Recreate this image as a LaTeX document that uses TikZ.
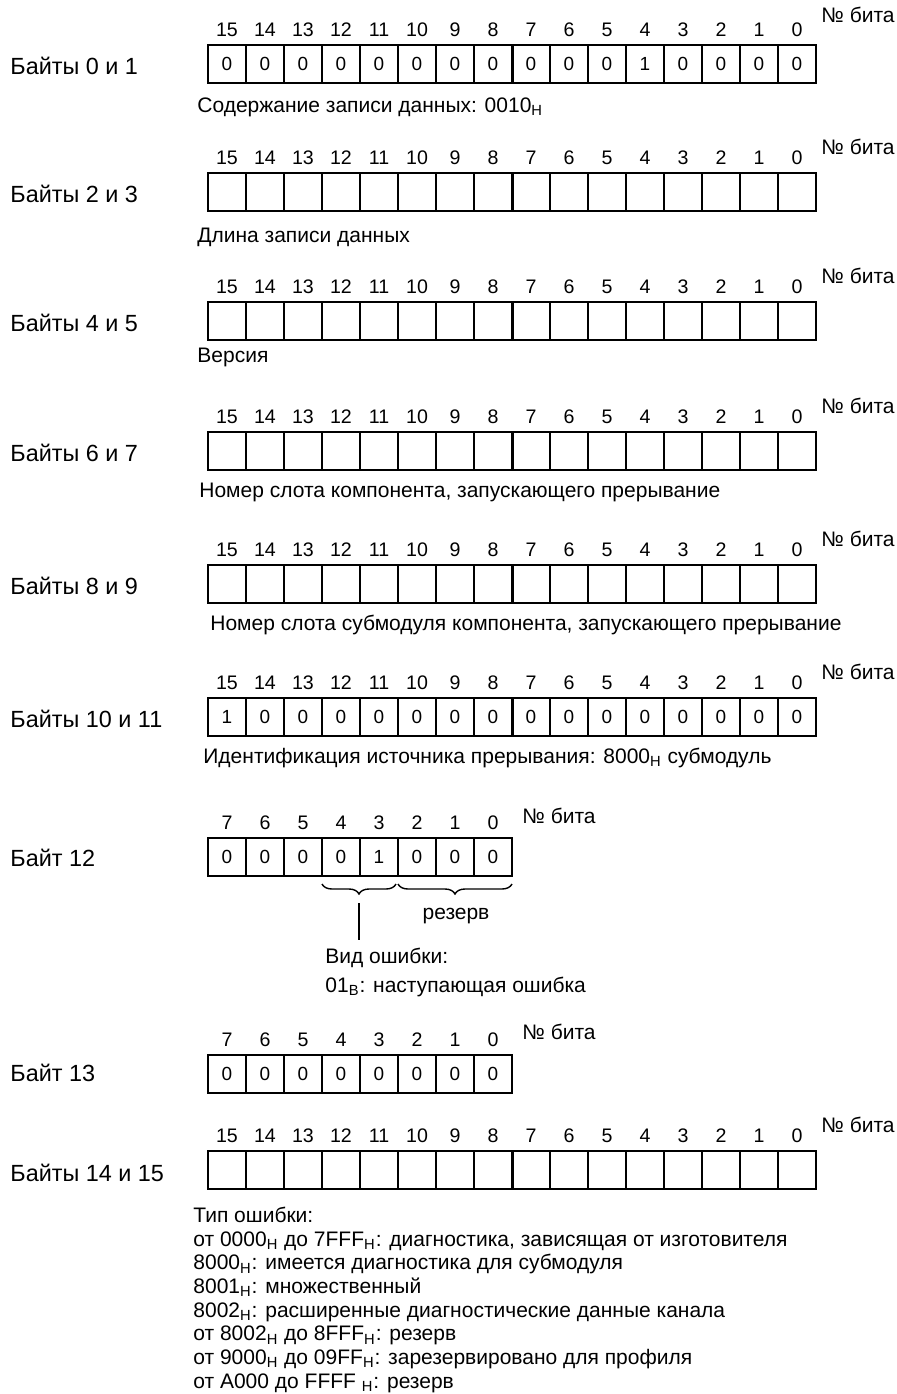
\documentclass[tikz,border=0pt]{standalone}
\usepackage{fontspec}
\setmainfont{Liberation Sans}
\usetikzlibrary{decorations.pathreplacing}
\newcommand{\regrow}[4]{% #1 name, #2 top (px), #3 number of bits, #4 cell values
  \foreach \v [count=\i from 0] in {#4} {%
    \pgfmathtruncatemacro{\b}{#3-1-\i}%
    \node[cell] (#1-\b) at ({227+38*\i},{#2+19}) {\v};%
    \node[bitno] (#1-n\b) at ({227+38*\i},{#2-15}) {\b};%
  }%
}
\begin{document}
\begin{tikzpicture}[x=0.5pt,y=-0.5pt,
  cell/.style={draw, line width=0.7pt, minimum width=19pt, minimum height=19pt, inner sep=0pt, font=\fontsize{9.5}{11}\selectfont},
  bitno/.style={inner sep=0pt, font=\fontsize{9.8}{11}\selectfont},
  txt/.style={inner sep=0pt, anchor=west, font=\fontsize{10.5}{12}\selectfont, text height=7.6pt, text depth=2.2pt},
  lbl/.style={inner sep=0pt, anchor=west, font=\fontsize{11.7}{13}\selectfont, text height=8.4pt, text depth=2.4pt},
  midline/.style={line width=1.4pt},
  plainline/.style={line width=0.7pt},
  bracestyle/.style={line width=0.7pt, decorate, decoration={brace, mirror, amplitude=5pt}},
  ]
\useasboundingbox (0,0) rectangle (897,1394);
\fill[white] (0,0) rectangle (897,1394);

% ---- Bytes 0 and 1
\regrow{A}{45}{16}{0,0,0,0,0,0,0,0,0,0,0,1,0,0,0,0}
\draw[midline] (A-8.north east) -- (A-8.south east);
\node[txt] (A-bit) at (821,17) {№ бита};
\node[lbl] (A-lbl) at (10,68) {Байты 0 и 1};
\node[txt] (A-cap) at (197,107) {Содержание записи данных: 0010\textsubscript{H}};

% ---- Bytes 2 and 3
\regrow{B}{173}{16}{{},{},{},{},{},{},{},{},{},{},{},{},{},{},{},{}}
\draw[midline] (B-8.north east) -- (B-8.south east);
\node[txt] (B-bit) at (821,149) {№ бита};
\node[lbl] (B-lbl) at (10,196) {Байты 2 и 3};
\node[txt] (B-cap) at (197,237) {Длина записи данных};

% ---- Bytes 4 and 5
\regrow{C}{302}{16}{{},{},{},{},{},{},{},{},{},{},{},{},{},{},{},{}}
\draw[midline] (C-8.north east) -- (C-8.south east);
\node[txt] (C-bit) at (821,278) {№ бита};
\node[lbl] (C-lbl) at (10,325) {Байты 4 и 5};
\node[txt] (C-cap) at (197,357) {Версия};

% ---- Bytes 6 and 7
\regrow{D}{432}{16}{{},{},{},{},{},{},{},{},{},{},{},{},{},{},{},{}}
\draw[midline] (D-8.north east) -- (D-8.south east);
\node[txt] (D-bit) at (821,408) {№ бита};
\node[lbl] (D-lbl) at (10,455) {Байты 6 и 7};
\node[txt] (D-cap) at (199,492) {Номер слота компонента, запускающего прерывание};

% ---- Bytes 8 and 9
\regrow{E}{565}{16}{{},{},{},{},{},{},{},{},{},{},{},{},{},{},{},{}}
\draw[midline] (E-8.north east) -- (E-8.south east);
\node[txt] (E-bit) at (821,541) {№ бита};
\node[lbl] (E-lbl) at (10,588) {Байты 8 и 9};
\node[txt] (E-cap) at (210,625) {Номер слота субмодуля компонента, запускающего прерывание};

% ---- Bytes 10 and 11
\regrow{F}{698}{16}{1,0,0,0,0,0,0,0,0,0,0,0,0,0,0,0}
\draw[midline] (F-8.north east) -- (F-8.south east);
\node[txt] (F-bit) at (821,674) {№ бита};
\node[lbl] (F-lbl) at (10,721) {Байты 10 и 11};
\node[txt] (F-cap) at (203,758) {Идентификация источника прерывания: 8000\textsubscript{H} субмодуль};

% ---- Byte 12
\regrow{G}{838}{8}{0,0,0,0,1,0,0,0}
\node[txt] (G-bit) at (522,818) {№ бита};
\node[lbl] (G-lbl) at (10,860) {Байт 12};
\coordinate (br1a) at (322,884);
\coordinate (br1b) at (396,884);
\coordinate (br2a) at (398,884);
\coordinate (br2b) at (512,884);
\draw[bracestyle] (br1a) -- (br1b);
\draw[bracestyle] (br2a) -- (br2b);
\coordinate (tip1) at (359,903);
\coordinate (tip1end) at (359,940);
\draw[plainline] (tip1) -- (tip1end);
\node[txt, anchor=center] (G-res) at (456,914) {резерв};
\node[txt] (G-kind) at (325,958) {Вид ошибки:};
\node[txt] (G-kind2) at (325,987) {01\textsubscript{B}: наступающая ошибка};

% ---- Byte 13
\regrow{H}{1055}{8}{0,0,0,0,0,0,0,0}
\node[txt] (H-bit) at (522,1034) {№ бита};
\node[lbl] (H-lbl) at (10,1075) {Байт 13};

% ---- Bytes 14 and 15
\regrow{K}{1151}{16}{{},{},{},{},{},{},{},{},{},{},{},{},{},{},{},{}}
\draw[midline] (K-8.north east) -- (K-8.south east);
\node[txt] (K-bit) at (821,1127) {№ бита};
\node[lbl] (K-lbl) at (10,1175) {Байты 14 и 15};
\node[txt] (K-t0) at (193,1217) {Тип ошибки:};
\node[txt] (K-t1) at (193,1240.7) {от 0000\textsubscript{H} до 7FFF\textsubscript{H}: диагностика, зависящая от изготовителя};
\node[txt] (K-t2) at (193,1264.4) {8000\textsubscript{H}: имеется диагностика для субмодуля};
\node[txt] (K-t3) at (193,1288.1) {8001\textsubscript{H}: множественный};
\node[txt] (K-t4) at (193,1311.8) {8002\textsubscript{H}: расширенные диагностические данные канала};
\node[txt] (K-t5) at (193,1335.5) {от 8002\textsubscript{H} до 8FFF\textsubscript{H}: резерв};
\node[txt] (K-t6) at (193,1359.2) {от 9000\textsubscript{H} до 09FF\textsubscript{H}: зарезервировано для профиля};
\node[txt] (K-t7) at (193,1382.9) {от A000 до FFFF \textsubscript{H}: резерв};
\end{tikzpicture}
\end{document}
